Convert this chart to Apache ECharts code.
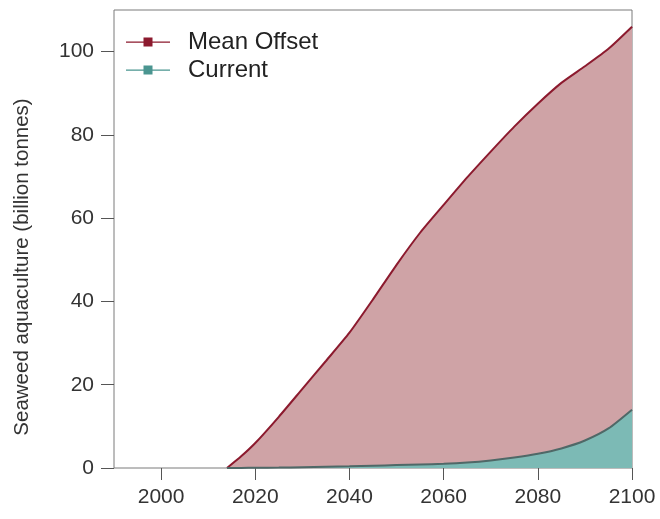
<!DOCTYPE html>
<html><head><meta charset="utf-8">
<script src="https://cdn.jsdelivr.net/npm/echarts@6/dist/echarts.min.js"></script>
<style>html,body{margin:0;padding:0;background:#fff}#c{width:660px;height:519px}</style>
</head><body><div id="c"></div>
<script>
const years = [2014, 2017, 2020, 2025, 2030, 2035, 2040, 2045, 2050, 2055, 2060, 2065, 2070, 2075, 2080, 2085, 2090, 2095, 2100];
const meanOffset = [0, 2.8, 6, 12.3, 19, 25.7, 32.5, 40.5, 48.8, 56.5, 63.2, 69.8, 76, 82, 87.5, 92.5, 96.5, 100.7, 106];
const current = [0, 0.03, 0.05, 0.1, 0.2, 0.3, 0.4, 0.55, 0.7, 0.85, 1.0, 1.3, 1.8, 2.5, 3.4, 4.7, 6.6, 9.5, 14];
const xTicks = [2000, 2020, 2040, 2060, 2080, 2100];
const yTicks = [0, 20, 40, 60, 80, 100];
const seriesNames = ['Mean Offset', 'Current'];
const yTitle = 'Seaweed aquaculture (billion tonnes)';

const chart = echarts.init(document.getElementById('c'), null, {renderer: 'canvas'});
const font = 'Liberation Sans, Arial, sans-serif';
const pair = arr => years.map((y, i) => [y, arr[i]]);
const icon = 'path://M0,4H44V5.2H0Z M17.5,0H26.5V9H17.5Z';
chart.setOption({
  animation: false,
  backgroundColor: '#fff',
  grid: {left: 114, right: 28, top: 10, bottom: 51, show: true, borderColor: '#7a7a7a', borderWidth: 1, backgroundColor: 'transparent'},
  legend: {
    orient: 'vertical', left: 121, top: 25, itemWidth: 44, itemHeight: 9, itemGap: 4,
    icon: icon,
    data: seriesNames,
    textStyle: {fontFamily: font, fontSize: 24, color: '#222', lineHeight: 24, padding: [0, 0, 0, 13]}
  },
  xAxis: {
    type: 'value', min: 1990, max: 2100,
    axisLine: {show: false},
    splitLine: {show: false},
    axisTick: {show: true, length: 12, lineStyle: {color: '#555'}, customValues: xTicks},
    axisLabel: {customValues: xTicks, formatter: v => String(v), fontFamily: font, fontSize: 21, color: '#333', margin: 19, showMinLabel: true, showMaxLabel: true}
  },
  yAxis: {
    type: 'value', min: 0, max: 110,
    name: yTitle, nameLocation: 'middle', nameGap: 81,
    nameTextStyle: {fontFamily: font, fontSize: 20.5, color: '#333', padding: [0, 56, 0, 0]},
    axisLine: {show: false},
    splitLine: {show: false},
    axisTick: {show: true, length: 13, lineStyle: {color: '#555'}, customValues: yTicks},
    axisLabel: {customValues: yTicks, formatter: v => String(v), fontFamily: font, fontSize: 21, color: '#333', margin: 20}
  },
  series: [
    {
      name: seriesNames[0], type: 'line', data: pair(meanOffset), smooth: 0.2,
      symbol: 'none', color: '#8c1a2e',
      lineStyle: {color: '#8c1a2e', width: 2},
      itemStyle: {color: '#8c1a2e'},
      areaStyle: {color: '#cfa3a6', opacity: 1}, z: 2
    },
    {
      name: seriesNames[1], type: 'line', data: pair(current), smooth: 0.2,
      symbol: 'none', color: '#4a9590',
      lineStyle: {color: '#4f6867', width: 2},
      itemStyle: {color: '#4a9590'},
      areaStyle: {color: '#7cbab5', opacity: 1}, z: 3
    }
  ]
});
</script></body></html>
